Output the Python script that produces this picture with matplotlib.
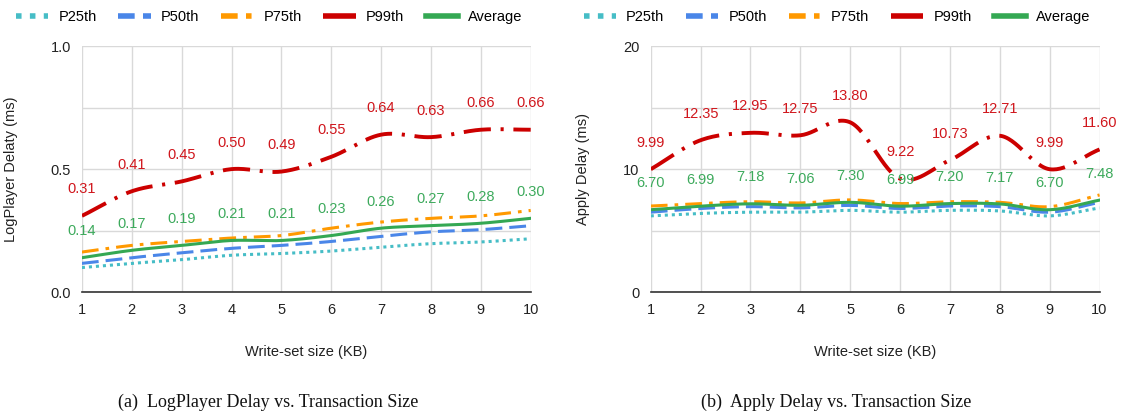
import numpy as np
import matplotlib.pyplot as plt

plt.rcParams['font.family'] = ['Liberation Sans', 'DejaVu Sans']

sizes = [1, 2, 3, 4, 5, 6, 7, 8, 9, 10]

# LogPlayer delay (ms)
lp_p25 = [0.10, 0.117, 0.132, 0.15, 0.157, 0.167, 0.183, 0.197, 0.204, 0.217]
lp_p50 = [0.117, 0.14, 0.16, 0.178, 0.19, 0.206, 0.227, 0.245, 0.254, 0.27]
lp_p75 = [0.163, 0.19, 0.206, 0.22, 0.23, 0.26, 0.285, 0.30, 0.31, 0.332]
lp_p99 = [0.31, 0.41, 0.45, 0.50, 0.49, 0.55, 0.64, 0.63, 0.66, 0.66]
lp_avg = [0.14, 0.17, 0.19, 0.21, 0.21, 0.23, 0.26, 0.27, 0.28, 0.30]

# Apply delay (ms)
ap_p25 = [6.2, 6.4, 6.5, 6.5, 6.65, 6.5, 6.65, 6.6, 6.2, 6.85]
ap_p50 = [6.5, 6.8, 6.95, 6.85, 7.05, 6.8, 7.0, 6.95, 6.5, 7.3]
ap_p75 = [7.0, 7.2, 7.35, 7.25, 7.5, 7.2, 7.35, 7.3, 6.95, 7.9]
ap_p99 = [9.99, 12.35, 12.95, 12.75, 13.80, 9.22, 10.73, 12.71, 9.99, 11.60]
ap_avg = [6.70, 6.99, 7.18, 7.06, 7.30, 6.99, 7.20, 7.17, 6.70, 7.48]

names = ['P25th', 'P50th', 'P75th', 'P99th', 'Average']
colors = ['#46bdc6', '#4a86e8', '#ff9900', '#cc0000', '#34a853']
styles = [(0, (1, 1.3)), (0, (5.5, 2.3)), (0, (5.5, 2.3, 1.2, 2.3)), (0, (7, 2.5, 0.8, 2.5)), '-']
widths = [2.2, 2.2, 2.2, 2.8, 2.2]


def smooth(x, y, n=30):
    # catmull-rom spline through the points (drawing only)
    x = np.asarray(x, float)
    y = np.asarray(y, float)
    px = np.concatenate([[2 * x[0] - x[1]], x, [2 * x[-1] - x[-2]]])
    py = np.concatenate([[2 * y[0] - y[1]], y, [2 * y[-1] - y[-2]]])
    xs, ys = [], []
    t = np.linspace(0, 1, n)
    for i in range(1, len(px) - 2):
        for p, out in ((px, xs), (py, ys)):
            p0, p1, p2, p3 = p[i - 1], p[i], p[i + 1], p[i + 2]
            m1 = (p2 - p0) / 2
            m2 = (p3 - p1) / 2
            h00 = 2 * t**3 - 3 * t**2 + 1
            h10 = t**3 - 2 * t**2 + t
            h01 = -2 * t**3 + 3 * t**2
            h11 = t**3 - t**2
            out.append(h00 * p1 + h10 * m1 + h01 * p2 + h11 * m2)
    return np.concatenate(xs), np.concatenate(ys)


fig = plt.figure(figsize=(11.22, 4.15), dpi=100)
ax1 = fig.add_axes([0.073, 0.296, 0.400, 0.593])
ax2 = fig.add_axes([0.580, 0.296, 0.400, 0.593])


def draw(ax, series, ymax, yticks, minor, ylabel, labx):
    for s, c, ls, lw in zip(series, colors, styles, widths):
        sx, sy = smooth(sizes, s)
        ax.plot(sx, sy, color=c, linestyle=ls, linewidth=lw, zorder=3)
    for s, c in ((series[3], '#d0161c'), (series[4], '#3daa5c')):
        for xv, yv in zip(sizes, s):
            ax.annotate('{:.2f}'.format(yv), (xv, yv), xytext=(0, 19),
                        textcoords='offset points', ha='center', va='center',
                        color=c, fontsize=10.5, zorder=4)
    ax.set_xlim(1, 10)
    ax.set_ylim(0, ymax)
    ax.set_xticks(sizes)
    ax.set_yticks(yticks)
    ax.set_yticks(minor, minor=True)
    ax.grid(True, which='both', color='#d9d9d9', linewidth=1)
    ax.set_axisbelow(True)
    for sp in ['top', 'right', 'left']:
        ax.spines[sp].set_visible(False)
    ax.spines['bottom'].set_color('#333333')
    ax.spines['bottom'].set_linewidth(1.2)
    ax.tick_params(length=0, labelsize=10.5, colors='#222222', pad=8)
    ax.tick_params(axis='y', which='minor', length=0)
    ax.set_xlabel('Write-set size (KB)', fontsize=10.5, color='#222222', labelpad=20)
    ax.set_ylabel(ylabel, fontsize=10.5, color='#222222')
    ax.yaxis.set_label_coords(labx, 0.5)


draw(ax1, [lp_p25, lp_p50, lp_p75, lp_p99, lp_avg], 1.0, [0, 0.5, 1.0],
     [0.25, 0.75], 'LogPlayer Delaty (ms)', -0.142)
ax1.set_yticklabels(['0.0', '0.5', '1.0'])
draw(ax2, [ap_p25, ap_p50, ap_p75, ap_p99, ap_avg], 20, [0, 10, 20],
     [5, 15], 'Apply Delay (ms)', -0.136)

handles = [plt.Line2D([], [], color=c, linestyle=ls, linewidth=4)
           for c, ls in zip(colors, [(0, (1, 1.5)), (0, (3, 1.5)), (0, (3, 1.5, 1, 1.5)), (0, (6, 1.5, 1, 1.5)), '-'])]
for cx in (0.24, 0.746):
    fig.legend(handles, names, loc='center', bbox_to_anchor=(cx, 0.958), ncol=5, frameon=False,
               fontsize=10.5, handlelength=2.2, columnspacing=1.5, handletextpad=0.7)

fig.text(0.239, 0.031, '(a)  LogPlayer Delay vs. Transaction Size', ha='center', va='center',
         family='Liberation Serif', fontsize=13, color='#111111')
fig.text(0.745, 0.031, '(b)  Apply Delay vs. Transaction Size', ha='center', va='center',
         family='Liberation Serif', fontsize=13, color='#111111')

fig.savefig('out.png', dpi=100)
